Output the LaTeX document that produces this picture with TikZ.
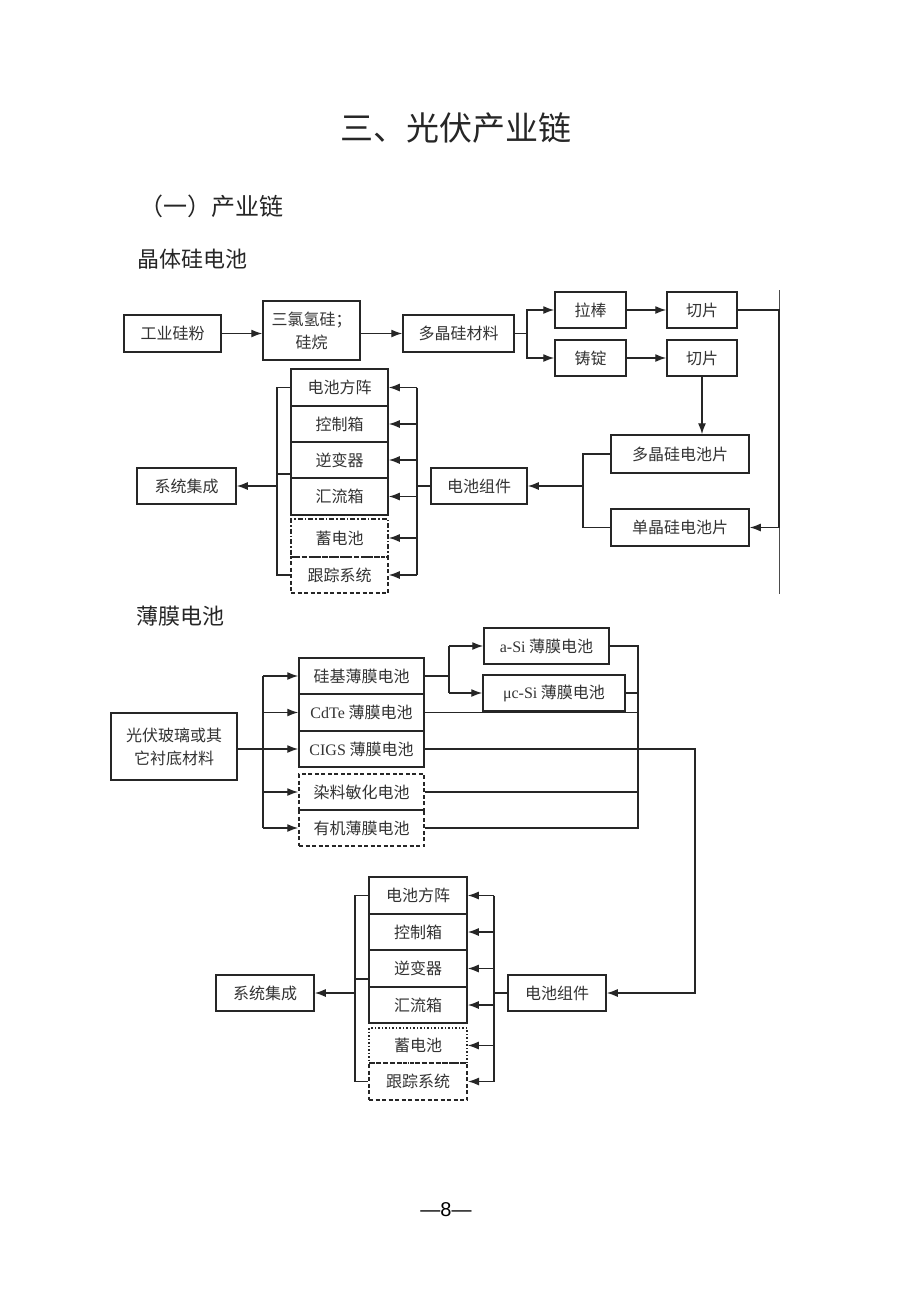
\documentclass[tikz,border=0pt]{standalone}
\usepackage{fontspec}
\setmainfont{Noto Sans CJK SC}
\newfontfamily\latf{Liberation Serif}
\newfontfamily\pagef{Liberation Sans}
\usetikzlibrary{arrows.meta}
\begin{document}
\begin{tikzpicture}[x=1pt,y=-1pt,
  box/.style={draw=black!85, line width=1.5pt, text=black!80, font=\fontsize{16}{23}\selectfont, inner sep=0pt, align=center},
  sz/.style 2 args={minimum width=#1, minimum height=#2},
  dashbox/.style={box, dash pattern=on 4pt off 2.5pt},
  dashdotbox/.style={box, dash pattern=on 5pt off 2pt on 1.5pt off 2pt},
  dotbox/.style={box, dash pattern=on 1.5pt off 2pt},
  thickdash/.style={box, line width=2pt, dash pattern=on 4pt off 2.5pt},
  conn/.style={draw=black!85, line width=1.4pt},
  arr/.style={conn, -{Latex[length=11pt,width=8pt]}},
  heading/.style={text=black!85, inner sep=0pt, anchor=west}
]
\fill[white] (0,0) rectangle (920,1302);
\useasboundingbox (0,0) rectangle (920,1302);

% headings
\node[text=black!85, inner sep=0pt, font=\fontsize{33}{33}\selectfont] (title) at (456,128) {三、光伏产业链};
\node[heading, anchor=east, font=\fontsize{24}{24}\selectfont] (sub) at (284,206.5) {（一）产业链};
\node[heading, font=\fontsize{22}{22}\selectfont] (h1) at (137,259) {晶体硅电池};
\node[heading, font=\fontsize{22}{22}\selectfont] (h2) at (136,616) {薄膜电池};
\node[text=black, inner sep=0pt, font=\pagef\fontsize{20}{20}\selectfont] (pg) at (446,1210) {—8—};

% ===== crystalline silicon =====
\node[box, sz={97pt}{37pt}] (gyfen) at (172.5,333.5) {工业硅粉};
\node[box, sz={97pt}{59pt}] (slq) at (311.5,330.5) {三氯氢硅；\\硅烷};
\node[box, sz={111pt}{37pt}] (djg) at (458.5,333.5) {多晶硅材料};
\node[box, sz={71pt}{36pt}] (labang) at (590.5,310) {拉棒};
\node[box, sz={71pt}{36pt}] (zhuding) at (590.5,358) {铸锭};
\node[box, sz={70pt}{36pt}] (qp1) at (702,310) {切片};
\node[box, sz={70pt}{36pt}] (qp2) at (702,358) {切片};
\node[box, sz={138pt}{38pt}] (djgdc) at (680,454) {多晶硅电池片};
\node[box, sz={138pt}{37pt}] (djdc) at (680,527.5) {单晶硅电池片};
\node[box, sz={96pt}{36pt}] (zj1) at (479,486) {电池组件};
\node[box, sz={97pt}{37pt}] (s1a) at (339.5,387.5) {电池方阵};
\node[box, sz={97pt}{36pt}] (s1b) at (339.5,424) {控制箱};
\node[box, sz={97pt}{36pt}] (s1c) at (339.5,460) {逆变器};
\node[box, sz={97pt}{37pt}] (s1d) at (339.5,496.5) {汇流箱};
\node[dashdotbox, sz={97pt}{38pt}] (s1e) at (339.5,538) {蓄电池};
\node[dashbox, sz={97pt}{36pt}] (s1f) at (339.5,575) {跟踪系统};
\node[box, sz={99pt}{36pt}] (xt1) at (186.5,486) {系统集成};

\draw[arr] (gyfen.east) -- (gyfen.east -| slq.west);
\draw[arr] (slq.east |- djg.west) -- (djg.west);
\coordinate (b1) at (527,333.5);
\draw[conn] (djg.east) -- (b1);
\draw[arr] (b1) |- (labang.west);
\draw[arr] (b1) |- (zhuding.west);
\draw[arr] (labang.east) -- (qp1.west);
\draw[arr] (zhuding.east) -- (qp2.west);
\draw[arr] (qp2.south) -- (qp2.south |- djgdc.north);
\coordinate (rt) at (779,290);
\coordinate (rb) at (779,594);
\draw[draw=black!70, line width=1pt] (rt) -- (rb);
\coordinate (r1) at (779,310);
\draw[arr] (qp1.east) -- (r1) |- (djdc.east);
\coordinate (c1) at (583,486);
\draw[conn] (djgdc.west) -- (djgdc.west -| c1) -- (djdc.west -| c1) -- (djdc.west);
\draw[arr] (c1) -- (zj1.east);
\coordinate (d1) at (417,486);
\draw[conn] (zj1.west) -- (d1);
\draw[conn] (d1 |- s1a.east) -- (d1 |- s1f.east);
\foreach \n in {s1a,s1b,s1c,s1d,s1e,s1f} \draw[arr] (d1 |- \n.east) -- (\n.east);
\coordinate (e1) at (277,486);
\draw[conn] (s1a.west) -- (s1a.west -| e1) -- (s1f.west -| e1) -- (s1f.west);
\coordinate (m1) at (291,474);
\draw[conn] (m1) -- (m1 -| e1);
\draw[arr] (e1) -- (xt1.east);

% ===== thin film =====
\node[box, sz={126pt}{67pt}] (gl) at (174,746.5) {光伏玻璃或其\\它衬底材料};
\node[box, sz={125pt}{36pt}] (t1) at (361.5,676) {硅基薄膜电池};
\node[box, sz={125pt}{37pt}] (t2) at (361.5,712.5) {{\latf CdTe} 薄膜电池};
\node[box, sz={125pt}{36pt}] (t3) at (361.5,749) {{\latf CIGS} 薄膜电池};
\node[dashbox, sz={125pt}{36pt}] (t4) at (361.5,792) {染料敏化电池};
\node[dashbox, sz={125pt}{36pt}] (t5) at (361.5,828) {有机薄膜电池};
\node[box, sz={125pt}{36pt}] (asi) at (546.5,646) {{\latf a-Si} 薄膜电池};
\node[box, sz={142pt}{36pt}] (ucsi) at (554,693) {{\latf μc-Si} 薄膜电池};

\coordinate (b2) at (263,749);
\draw[conn] (gl.east |- b2) -- (b2);
\draw[conn] (b2 |- t1.west) -- (b2 |- t5.west);
\foreach \n in {t1,t2,t3,t4,t5} \draw[arr] (b2 |- \n.west) -- (\n.west);
\coordinate (b3) at (449,676);
\draw[conn] (t1.east) -- (b3);
\draw[conn] (b3 |- asi.west) -- (b3 |- ucsi.west);
\draw[arr] (b3 |- asi.west) -- (asi.west);
\draw[arr] (b3 |- ucsi.west) -- (ucsi.west);
\coordinate (c2) at (638,749);
\draw[conn] (asi.east) -- (asi.east -| c2) -- (t5.east -| c2) -- (t5.east);
\draw[conn] (ucsi.east) -- (ucsi.east -| c2);
\draw[conn] (t2.east) -- (t2.east -| c2);
\draw[conn] (t4.east) -- (t4.east -| c2);

% ===== thin film system =====
\node[box, sz={98pt}{37pt}] (s2a) at (418,895.5) {电池方阵};
\node[box, sz={98pt}{36pt}] (s2b) at (418,932) {控制箱};
\node[box, sz={98pt}{37pt}] (s2c) at (418,968.5) {逆变器};
\node[box, sz={98pt}{36pt}] (s2d) at (418,1005) {汇流箱};
\node[dotbox, sz={98pt}{35pt}] (s2e) at (418,1045.5) {蓄电池};
\node[thickdash, sz={98pt}{37pt}] (s2f) at (418,1081.5) {跟踪系统};
\node[box, sz={98pt}{36pt}] (zj2) at (557,993) {电池组件};
\node[box, sz={98pt}{36pt}] (xt2) at (265,993) {系统集成};

\coordinate (k2) at (695,749);
\draw[arr] (t3.east) -- (k2) |- (zj2.east);
\coordinate (d2) at (494,993);
\draw[conn] (zj2.west) -- (d2);
\draw[conn] (d2 |- s2a.east) -- (d2 |- s2f.east);
\foreach \n in {s2a,s2b,s2c,s2d,s2e,s2f} \draw[arr] (d2 |- \n.east) -- (\n.east);
\coordinate (e2) at (355,993);
\draw[conn] (s2a.west) -- (s2a.west -| e2) -- (s2f.west -| e2) -- (s2f.west);
\coordinate (m2) at (369,979);
\draw[conn] (m2) -- (m2 -| e2);
\draw[arr] (e2) -- (xt2.east);
\end{tikzpicture}
\end{document}
